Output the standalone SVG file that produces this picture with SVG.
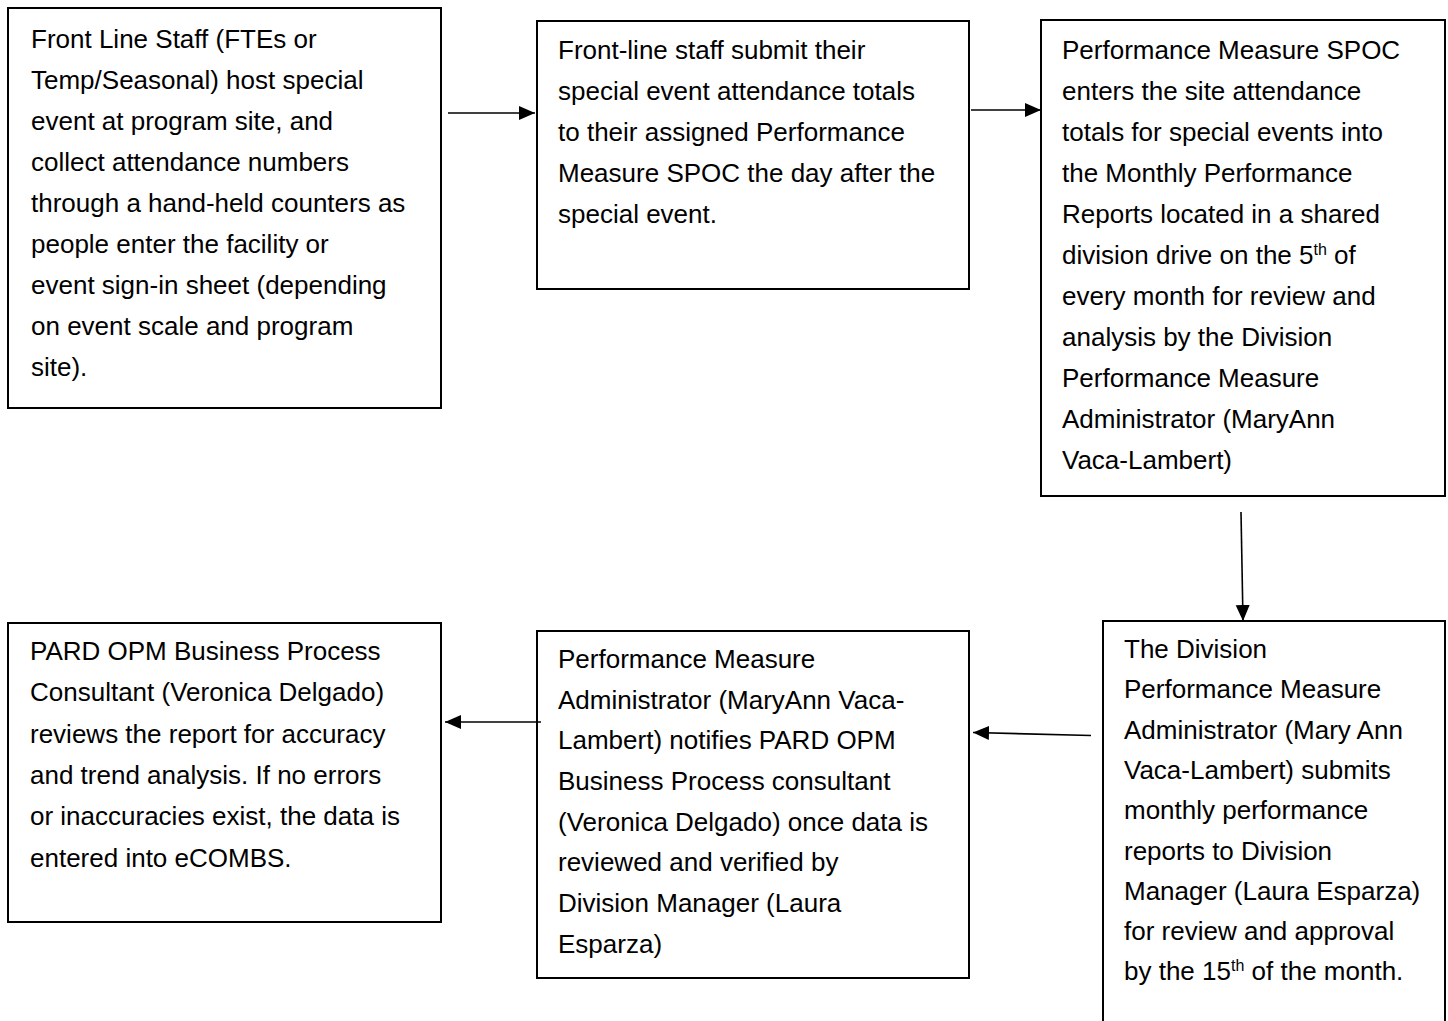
<svg xmlns="http://www.w3.org/2000/svg" width="1448" height="1021" viewBox="0 0 1448 1021">
<style>
.box{fill:#fff;stroke:#000;stroke-width:2}
.t{font-family:"Liberation Sans",Arial,sans-serif;font-size:26px;fill:#000}
.sup{font-size:16px}
.c{stroke:#000;stroke-width:1.6;fill:none;marker-end:url(#ah)}
</style>
<defs>
<marker id="ah" markerUnits="userSpaceOnUse" markerWidth="17" markerHeight="15" refX="16" refY="7" orient="auto">
<path d="M0,0 L16,7 L0,14 Z" fill="#000"/>
</marker>
</defs>
<rect width="1448" height="1021" fill="#fff"/>
<g id="node1">
<rect class="box" x="8" y="8" width="433" height="400"/>
<text class="t">
<tspan x="31" y="48">Front Line Staff (FTEs or</tspan>
<tspan x="31" y="89">Temp/Seasonal) host special</tspan>
<tspan x="31" y="130">event at program site, and</tspan>
<tspan x="31" y="171">collect attendance numbers</tspan>
<tspan x="31" y="212">through a hand-held counters as</tspan>
<tspan x="31" y="253">people enter the facility or</tspan>
<tspan x="31" y="294">event sign-in sheet (depending</tspan>
<tspan x="31" y="335">on event scale and program</tspan>
<tspan x="31" y="376">site).</tspan>
</text>
</g>
<g id="node2">
<rect class="box" x="537" y="21" width="432" height="268"/>
<text class="t">
<tspan x="558" y="59">Front-line staff submit their</tspan>
<tspan x="558" y="100">special event attendance totals</tspan>
<tspan x="558" y="141">to their assigned Performance</tspan>
<tspan x="558" y="182">Measure SPOC the day after the</tspan>
<tspan x="558" y="223">special event.</tspan>
</text>
</g>
<g id="node3">
<rect class="box" x="1041" y="20" width="404" height="476"/>
<text class="t">
<tspan x="1062" y="59">Performance Measure SPOC</tspan>
<tspan x="1062" y="100">enters the site attendance</tspan>
<tspan x="1062" y="141">totals for special events into</tspan>
<tspan x="1062" y="182">the Monthly Performance</tspan>
<tspan x="1062" y="223">Reports located in a shared</tspan>
<tspan x="1062" y="264">division drive on the 5<tspan class="sup" dy="-9">th</tspan><tspan dy="9"> of</tspan></tspan>
<tspan x="1062" y="305">every month for review and</tspan>
<tspan x="1062" y="346">analysis by the Division</tspan>
<tspan x="1062" y="387">Performance Measure</tspan>
<tspan x="1062" y="428">Administrator (MaryAnn</tspan>
<tspan x="1062" y="469">Vaca-Lambert)</tspan>
</text>
</g>
<g id="node4">
<rect class="box" x="1103" y="621" width="342" height="420"/>
<text class="t">
<tspan x="1124" y="658">The Division</tspan>
<tspan x="1124" y="698">Performance Measure</tspan>
<tspan x="1124" y="739">Administrator (Mary Ann</tspan>
<tspan x="1124" y="779">Vaca-Lambert) submits</tspan>
<tspan x="1124" y="819">monthly performance</tspan>
<tspan x="1124" y="860">reports to Division</tspan>
<tspan x="1124" y="900">Manager (Laura Esparza)</tspan>
<tspan x="1124" y="940">for review and approval</tspan>
<tspan x="1124" y="980">by the 15<tspan class="sup" dy="-9">th</tspan><tspan dy="9"> of the month.</tspan></tspan>
</text>
</g>
<g id="node5">
<rect class="box" x="537" y="631" width="432" height="347"/>
<text class="t">
<tspan x="558" y="668">Performance Measure</tspan>
<tspan x="558" y="709">Administrator (MaryAnn Vaca-</tspan>
<tspan x="558" y="749">Lambert) notifies PARD OPM</tspan>
<tspan x="558" y="790">Business Process consultant</tspan>
<tspan x="558" y="831">(Veronica Delgado) once data is</tspan>
<tspan x="558" y="871">reviewed and verified by</tspan>
<tspan x="558" y="912">Division Manager (Laura</tspan>
<tspan x="558" y="953">Esparza)</tspan>
</text>
</g>
<g id="node6">
<rect class="box" x="8" y="623" width="433" height="299"/>
<text class="t">
<tspan x="30" y="660">PARD OPM Business Process</tspan>
<tspan x="30" y="701">Consultant (Veronica Delgado)</tspan>
<tspan x="30" y="743">reviews the report for accuracy</tspan>
<tspan x="30" y="784">and trend analysis. If no errors</tspan>
<tspan x="30" y="825">or inaccuracies exist, the data is</tspan>
<tspan x="30" y="867">entered into eCOMBS.</tspan>
</text>
</g>
<g id="connectors">
<line class="c" x1="448" y1="113" x2="535" y2="113"/>
<line class="c" x1="971" y1="110" x2="1041" y2="110"/>
<line class="c" x1="1241" y1="512" x2="1243" y2="621"/>
<line class="c" x1="1091" y1="735.5" x2="973" y2="732.5"/>
<line class="c" x1="541" y1="722" x2="445" y2="722"/>
</g>
</svg>
